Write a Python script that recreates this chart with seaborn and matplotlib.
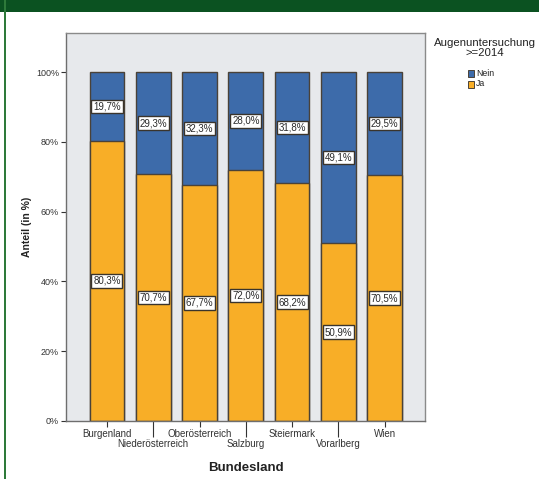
import matplotlib
matplotlib.use("Agg")
import matplotlib.pyplot as plt
from matplotlib.patches import Rectangle
import seaborn as sns
import pandas as pd

# Share of people with an eye examination since 2014, by federal state
bundeslaender = ["Burgenland", "Niederösterreich", "Oberösterreich", "Salzburg",
                 "Steiermark", "Vorarlberg", "Wien"]
ja = [80.3, 70.7, 67.7, 72.0, 68.2, 50.9, 70.5]
nein = [19.7, 29.3, 32.3, 28.0, 31.8, 49.1, 29.5]
y_ticks = [0, 20, 40, 60, 80, 100]
legend_title = "Augenuntersuchung\n>=2014"
legend_labels = ["Nein", "Ja"]

BLUE = "#3D6BAA"
ORANGE = "#F8AE27"
EDGE = "#4A4238"
PANEL = "#E7E9EC"

sns.set_theme(style="white")
plt.rcParams["font.family"] = ["Liberation Sans", "DejaVu Sans"]

df = pd.DataFrame({"Bundesland": bundeslaender, "Ja": ja, "Nein": nein})
df["Gesamt"] = df["Ja"] + df["Nein"]

W, H = 539, 479
fig = plt.figure(figsize=(W / 100, H / 100), dpi=100)
fig.patch.set_facecolor("white")

x0, x1, y0, y1 = 66, 425, 33, 421
ax = fig.add_axes([x0 / W, 1 - y1 / H, (x1 - x0) / W, (y1 - y0) / H])
ax.set_facecolor(PANEL)

# Stacked bars: full height in blue ("Nein" on top), "Ja" drawn over it in orange
sns.barplot(data=df, x="Bundesland", y="Gesamt", color=BLUE, width=0.75,
            edgecolor=EDGE, linewidth=1.0, saturation=1, ax=ax)
sns.barplot(data=df, x="Bundesland", y="Ja", color=ORANGE, width=0.75,
            edgecolor=EDGE, linewidth=1.0, saturation=1, ax=ax)

box = dict(boxstyle="square,pad=0.18", facecolor="white", edgecolor="#3A342C", linewidth=1.0)
for i, (j, n) in enumerate(zip(ja, nein)):
    ax.text(i, j / 2, f"{j:.1f}%".replace(".", ","), ha="center", va="center",
            fontsize=7, color="#2A2A2A", bbox=box)
    ax.text(i, j + n / 2, f"{n:.1f}%".replace(".", ","), ha="center", va="center",
            fontsize=7, color="#2A2A2A", bbox=box)

ax.set_xlim(-0.885, 6.87)
ax.set_ylim(0, 111.2)

# y axis
ax.set_yticks(y_ticks)
ax.set_yticklabels([f"{t}%" for t in y_ticks], fontsize=6.5, color="#333333")
ax.tick_params(axis="y", direction="out", length=3.5, width=0.8, color="#333333", pad=1.5, left=True)

# x axis with staggered labels: even categories on major ticks, odd ones on long minor ticks
ax.set_xticks(range(0, len(bundeslaender), 2))
ax.set_xticklabels(bundeslaender[0::2])
ax.set_xticks(range(1, len(bundeslaender), 2), minor=True)
ax.set_xticklabels(bundeslaender[1::2], minor=True)
ax.tick_params(axis="x", which="major", direction="out", length=4.6, width=0.8,
               color="#333333", pad=1.2, labelsize=7, labelcolor="#333333", bottom=True)
ax.tick_params(axis="x", which="minor", direction="out", length=11.8, width=0.8,
               color="#333333", pad=1.2, labelsize=7, labelcolor="#333333", bottom=True)

ax.set_xlabel("Bundesland", fontsize=9.5, fontweight="bold", color="#222222", labelpad=9)
ax.set_ylabel("Anteil (in %)", fontsize=7.5, fontweight="bold", color="#222222", labelpad=3)

for side in ["top", "right"]:
    ax.spines[side].set_color("#8A8A8A")
    ax.spines[side].set_linewidth(1.0)
for side in ["left", "bottom"]:
    ax.spines[side].set_color("#6E6E6E")
    ax.spines[side].set_linewidth(1.0)

# Legend
fig.text(485 / W, 1 - 48 / H, legend_title, ha="center", va="center", fontsize=8.2,
         color="#222222", linespacing=1.1)
for k, (lab, col) in enumerate(zip(legend_labels, [BLUE, ORANGE])):
    yc = 73 + 11 * k
    fig.patches.append(Rectangle((468 / W, 1 - (yc + 3.5) / H), 6 / W, 7 / H,
                                 transform=fig.transFigure, facecolor=col,
                                 edgecolor=EDGE, linewidth=0.7))
    fig.text(476 / W, 1 - yc / H, lab, ha="left", va="center", fontsize=6.3, color="#222222")

# Page frame: green band on top and thin green rule on the left
fig.patches.append(Rectangle((0, 1 - 12 / H), 1, 12 / H, transform=fig.transFigure,
                             facecolor="#0B5221", edgecolor="none"))
fig.patches.append(Rectangle((4 / W, 0), 2 / W, 1, transform=fig.transFigure,
                             facecolor="#2E7A3A", edgecolor="none"))

fig.savefig("out.png", dpi=100)
